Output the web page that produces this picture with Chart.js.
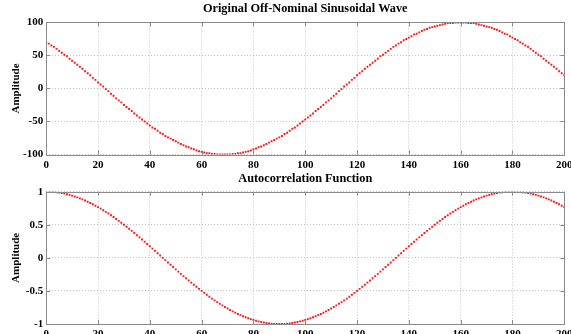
<!DOCTYPE html>
<html><head><meta charset="utf-8">
<script src="https://cdn.jsdelivr.net/npm/chart.js@4.4.1/dist/chart.umd.min.js"></script>
<style>
html,body{margin:0;padding:0;background:#fff;overflow:hidden;width:571px;height:334px;position:relative;}
#topChart{position:absolute;left:0;top:0;}
#botChart{position:absolute;left:0;top:166px;}
</style></head><body>
<canvas id="topChart" width="600" height="175" style="width:600px;height:175px"></canvas>
<canvas id="botChart" width="600" height="180" style="width:600px;height:180px"></canvas>
<script>
// ---- data ----
const samples = [0,1,2,3,4,5,6,7,8,9,10,11,12,13,14,15,16,17,18,19,20,21,22,23,24,25,26,27,28,29,30,31,32,33,34,35,36,37,38,39,40,41,42,43,44,45,46,47,48,49,50,51,52,53,54,55,56,57,58,59,60,61,62,63,64,65,66,67,68,69,70,71,72,73,74,75,76,77,78,79,80,81,82,83,84,85,86,87,88,89,90,91,92,93,94,95,96,97,98,99,100,101,102,103,104,105,106,107,108,109,110,111,112,113,114,115,116,117,118,119,120,121,122,123,124,125,126,127,128,129,130,131,132,133,134,135,136,137,138,139,140,141,142,143,144,145,146,147,148,149,150,151,152,153,154,155,156,157,158,159,160,161,162,163,164,165,166,167,168,169,170,171,172,173,174,175,176,177,178,179,180,181,182,183,184,185,186,187,188,189,190,191,192,193,194,195,196,197,198,199,200];

const originalWave = [70,68,65,63,60,57,54,51,49,45,42,39,36,33,30,26,23,20,16,13,9,6,3,-1,-4,-8,-11,-15,-18,-21,-25,-28,-31,-34,-38,-41,-44,-47,-50,-53,-56,-59,-61,-64,-67,-69,-72,-74,-76,-78,-80,-82,-84,-86,-88,-89,-91,-92,-94,-95,-96,-97,-98,-98,-99,-99,-100,-100,-100,
-100,-100,-100,-99,-99,-98,-98,-97,-96,-95,-94,-92,-91,-89,-88,-86,-84,-82,-80,-78,-76,-74,-72,-69,-67,-64,-61,-59,-56,-53,-50,-47,-44,-41,-38,-34,-31,-28,-25,-21,-18,-15,-11,-8,-4,-1,3,6,9,13,16,20,23,26,30,33,36,39,42,45,49,51,54,57,60,63,65,68,70,73,75,77,79,82,83,85,87,89,90,92,93,94,95,96,97,98,99,99,99,100,100,100,
100,100,99,99,99,98,97,96,95,94,93,92,90,89,87,85,83,82,79,77,75,73,70,68,65,63,60,57,54,51,49,45,42,39,36,33,30,26,23,20];

const autocorrelation = [1,0.999,0.998,0.995,0.99,0.985,0.978,0.97,0.961,0.951,0.94,0.927,0.914,0.899,0.883,0.866,0.848,0.829,0.809,0.788,0.766,0.743,0.719,0.695,0.669,0.643,0.616,0.588,0.559,0.53,0.5,0.469,0.438,0.407,0.375,0.342,0.309,0.276,0.242,0.208,0.174,0.139,0.105,0.07,0.035,0,
-0.035,-0.07,-0.105,-0.139,-0.174,-0.208,-0.242,-0.276,-0.309,-0.342,-0.375,-0.407,-0.438,-0.469,-0.5,-0.53,-0.559,-0.588,-0.616,-0.643,-0.669,-0.695,-0.719,-0.743,-0.766,-0.788,-0.809,-0.829,-0.848,-0.866,-0.883,-0.899,-0.914,-0.927,-0.94,-0.951,-0.961,-0.97,-0.978,-0.985,-0.99,-0.995,-0.998,-0.999,-1,
-0.999,-0.998,-0.995,-0.99,-0.985,-0.978,-0.97,-0.961,-0.951,-0.94,-0.927,-0.914,-0.899,-0.883,-0.866,-0.848,-0.829,-0.809,-0.788,-0.766,-0.743,-0.719,-0.695,-0.669,-0.643,-0.616,-0.588,-0.559,-0.53,-0.5,-0.469,-0.438,-0.407,-0.375,-0.342,-0.309,-0.276,-0.242,-0.208,-0.174,-0.139,-0.105,-0.07,-0.035,0,
0.035,0.07,0.105,0.139,0.174,0.208,0.242,0.276,0.309,0.342,0.375,0.407,0.438,0.469,0.5,0.53,0.559,0.588,0.616,0.643,0.669,0.695,0.719,0.743,0.766,0.788,0.809,0.829,0.848,0.866,0.883,0.899,0.914,0.927,0.94,0.951,0.961,0.97,0.978,0.985,0.99,0.995,0.998,0.999,1,
0.999,0.998,0.995,0.99,0.985,0.978,0.97,0.961,0.951,0.94,0.927,0.914,0.899,0.883,0.866,0.848,0.829,0.809,0.788,0.766];

const xTicks = [0,20,40,60,80,100,120,140,160,180,200];
const waveTicks = [-100,-50,0,50,100];
const acfTicks = [-1,-0.5,0,0.5,1];
const topTitle = 'Original Off-Nominal Sinusoidal Wave';
const bottomTitle = 'Autocorrelation Function';
const yAxisLabel = 'Amplitude';

// ---- styling ----
const FONT = '"Liberation Serif","Times New Roman",serif';
const GRID = '#c4c4c4';
const FRAME = '#8a8a8a';
const CANVAS_W = 600;
const PLOT_RIGHT = 564.3;
const YAXIS_W = 46.2;

const framePlugin = {
  id: 'frame',
  afterDraw(chart) {
    const {ctx, chartArea: a, scales} = chart;
    ctx.save();
    ctx.setLineDash([]);
    ctx.strokeStyle = FRAME;
    ctx.lineWidth = 1;
    const L = 4;
    ctx.beginPath();
    scales.x.ticks.forEach(t => {
      const px = Math.round(scales.x.getPixelForValue(t.value)) + 0.5;
      ctx.moveTo(px, a.top); ctx.lineTo(px, a.top + L);
      ctx.moveTo(px, a.bottom); ctx.lineTo(px, a.bottom - L);
    });
    scales.y.ticks.forEach(t => {
      const py = Math.round(scales.y.getPixelForValue(t.value)) + 0.5;
      ctx.moveTo(a.left, py); ctx.lineTo(a.left + L, py);
      ctx.moveTo(a.right, py); ctx.lineTo(a.right - L, py);
    });
    ctx.stroke();
    ctx.strokeRect(Math.round(a.left) + 0.5, Math.round(a.top) + 0.5,
                   Math.round(a.right) - Math.round(a.left), Math.round(a.bottom) - Math.round(a.top));
    ctx.restore();
  }
};

function makeChart(id, values, yTicks, yMin, yMax, title, titlePad, xAxisH) {
  const pts = samples.map((s, i) => ({x: s, y: values[i]}));
  return new Chart(document.getElementById(id), {
    type: 'scatter',
    data: {datasets: [{
      data: pts,
      showLine: false,
      pointStyle: 'rect',
      pointRadius: 1.35,
      pointBorderWidth: 0,
      pointBackgroundColor: '#ff1a1a',
      pointBorderColor: '#ff1a1a'
    }]},
    options: {
      responsive: false,
      animation: false,
      events: [],
      layout: {padding: {left: 0, right: CANVAS_W - PLOT_RIGHT, top: 0, bottom: 0}},
      plugins: {
        legend: {display: false},
        tooltip: {enabled: false},
        title: {display: true, text: title, color: '#000', fullSize: false,
                font: {family: FONT, size: 12.3, weight: 'bold'},
                padding: titlePad}
      },
      scales: {
        x: {
          type: 'linear', min: 0, max: 200,
          afterBuildTicks: s => { s.ticks = xTicks.map(v => ({value: v})); },
          afterFit: s => { s.height = xAxisH; s.paddingLeft = 0; s.paddingRight = 0; },
          grid: {color: GRID, lineWidth: 1, drawTicks: false},
          border: {display: false, dash: [1, 2]},
          ticks: {color: '#000', font: {family: FONT, size: 11, weight: 'bold'},
                  padding: 4, maxRotation: 0, autoSkip: false, callback: v => String(v)}
        },
        y: {
          type: 'linear', min: yMin, max: yMax,
          afterBuildTicks: s => { s.ticks = yTicks.map(v => ({value: v})); },
          afterFit: s => { s.width = YAXIS_W; s.paddingTop = 0; s.paddingBottom = 0; },
          grid: {color: GRID, lineWidth: 1, drawTicks: false},
          border: {display: false, dash: [1, 2]},
          ticks: {color: '#000', font: {family: FONT, size: 11, weight: 'bold'},
                  padding: 3, autoSkip: false, callback: v => String(v)},
          title: {display: true, text: yAxisLabel, color: '#000',
                  font: {family: FONT, size: 11, weight: 'bold'},
                  padding: {top: 9.5, bottom: 0}}
        }
      }
    },
    plugins: [framePlugin]
  });
}

makeChart('topChart', originalWave, waveTicks, -100, 100, topTitle,
          {top: 1.8, bottom: 5.9}, 175 - 154.5);
makeChart('botChart', autocorrelation, acfTicks, -1, 1, bottomTitle,
          {top: 5.8, bottom: 5.1}, 180 - 158);
</script>
</body></html>
